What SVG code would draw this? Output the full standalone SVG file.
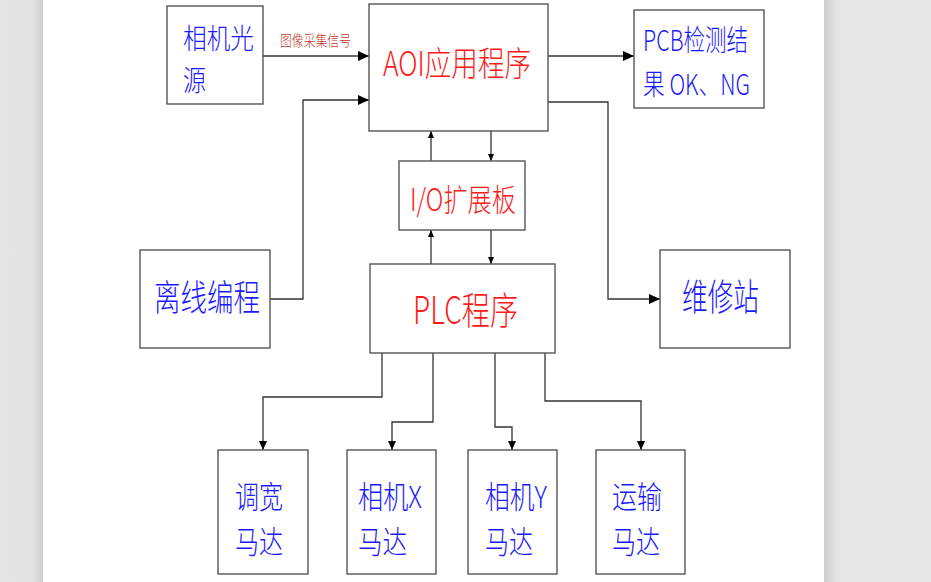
<svg xmlns="http://www.w3.org/2000/svg" width="931" height="582" viewBox="0 0 931 582">
<defs>
<linearGradient id="gl" x1="0" x2="1" y1="0" y2="0"><stop offset="0" stop-color="#e6e6e6"/><stop offset="0.75" stop-color="#e2e2e2"/><stop offset="1" stop-color="#cfcfcf"/></linearGradient>
<linearGradient id="gr" x1="0" x2="1" y1="0" y2="0"><stop offset="0" stop-color="#cccccc"/><stop offset="1" stop-color="#e6e6e6"/></linearGradient>
<marker id="aL" markerUnits="userSpaceOnUse" markerWidth="12" markerHeight="12" refX="11" refY="6" orient="auto"><path d="M0,1 L11,6 L0,11 Z" fill="#000"/></marker>
<marker id="aM" markerUnits="userSpaceOnUse" markerWidth="10" markerHeight="10" refX="9" refY="5" orient="auto"><path d="M0,1 L9,5 L0,9 Z" fill="#000"/></marker>
<marker id="aS" markerUnits="userSpaceOnUse" markerWidth="8" markerHeight="8" refX="7" refY="4" orient="auto"><path d="M0,1 L7,4 L0,7 Z" fill="#000"/></marker>
</defs>
<style>
.box{fill:#fff;stroke:#555;stroke-width:1.4}
.ln{fill:none;stroke:#333;stroke-width:1.3}
.t{font-family:"Noto Sans CJK SC","Liberation Serif",sans-serif;font-weight:300}
.b{fill:#1a1aff}
.r{fill:#ff1a1a}
</style>
<rect x="0" y="0" width="931" height="582" fill="#fff"/>
<rect x="0" y="0" width="43" height="582" fill="url(#gl)"/>
<rect x="824" y="0" width="14" height="582" fill="url(#gr)"/>
<rect x="838" y="0" width="93" height="582" fill="#e6e6e6"/>

<g id="connectors">
<path class="ln" d="M263,56 H369" marker-end="url(#aL)"/>
<text class="t" x="280" y="46" font-size="15" fill="#c0392b" textLength="71" lengthAdjust="spacingAndGlyphs">图像采集信号</text>
<path class="ln" d="M270,299 H303 V100 H369" marker-end="url(#aL)"/>
<path class="ln" d="M548,56 H634" marker-end="url(#aL)"/>
<path class="ln" d="M548,102 H608 V299 H660" marker-end="url(#aL)"/>
<path class="ln" d="M431,161 V131" marker-end="url(#aS)"/>
<path class="ln" d="M491,131 V161" marker-end="url(#aS)"/>
<path class="ln" d="M431,264 V230" marker-end="url(#aS)"/>
<path class="ln" d="M491,230 V264" marker-end="url(#aS)"/>
<path class="ln" d="M382,353 V397 H263 V450" marker-end="url(#aM)"/>
<path class="ln" d="M433,353 V422 H392 V450" marker-end="url(#aM)"/>
<path class="ln" d="M495,353 V427 H512 V450" marker-end="url(#aM)"/>
<path class="ln" d="M545,353 V401 H641 V450" marker-end="url(#aM)"/>
</g>

<g id="camera-light">
<rect class="box" x="167" y="6" width="96" height="98"/>
<text class="t b" x="183" y="49" font-size="28.5" textLength="71" lengthAdjust="spacingAndGlyphs">相机光</text>
<text class="t b" x="183" y="91" font-size="28.5" textLength="23" lengthAdjust="spacingAndGlyphs">源</text>
</g>

<g id="aoi">
<rect class="box" x="369" y="4" width="179" height="127"/>
<text class="t r" x="383" y="76" font-size="34" textLength="148" lengthAdjust="spacingAndGlyphs">AOI应用程序</text>
</g>

<g id="pcb-result">
<rect class="box" x="634" y="10" width="130" height="98"/>
<text class="t b" x="643" y="51" font-size="29" textLength="105" lengthAdjust="spacingAndGlyphs">PCB检测结</text>
<text class="t b" x="643" y="95" font-size="29" textLength="107" lengthAdjust="spacingAndGlyphs">果 OK、NG</text>
</g>

<g id="io-board">
<rect class="box" x="399" y="161" width="126" height="69"/>
<text class="t r" x="410" y="211" font-size="31" textLength="106" lengthAdjust="spacingAndGlyphs">I/O扩展板</text>
</g>

<g id="offline">
<rect class="box" x="140" y="250" width="130" height="98"/>
<text class="t b" x="154" y="311" font-size="36" textLength="106" lengthAdjust="spacingAndGlyphs">离线编程</text>
</g>

<g id="plc">
<rect class="box" x="370" y="264" width="185" height="89"/>
<text class="t r" x="413" y="324" font-size="38" textLength="105" lengthAdjust="spacingAndGlyphs">PLC程序</text>
</g>

<g id="repair">
<rect class="box" x="660" y="250" width="130" height="98"/>
<text class="t b" x="682" y="311" font-size="37" textLength="77" lengthAdjust="spacingAndGlyphs">维修站</text>
</g>

<g id="motor-width">
<rect class="box" x="218" y="450" width="90" height="124"/>
<text class="t b" x="235" y="508" font-size="30.5" textLength="48" lengthAdjust="spacingAndGlyphs">调宽</text>
<text class="t b" x="235" y="553" font-size="30.5" textLength="48" lengthAdjust="spacingAndGlyphs">马达</text>
</g>

<g id="motor-x">
<rect class="box" x="347" y="450" width="89" height="124"/>
<text class="t b" x="358" y="508" font-size="30.5" textLength="64" lengthAdjust="spacingAndGlyphs">相机X</text>
<text class="t b" x="358" y="553" font-size="30.5" textLength="49" lengthAdjust="spacingAndGlyphs">马达</text>
</g>

<g id="motor-y">
<rect class="box" x="468" y="450" width="89" height="124"/>
<text class="t b" x="485" y="508" font-size="30.5" textLength="62" lengthAdjust="spacingAndGlyphs">相机Y</text>
<text class="t b" x="485" y="553" font-size="30.5" textLength="48" lengthAdjust="spacingAndGlyphs">马达</text>
</g>

<g id="motor-conveyor">
<rect class="box" x="596" y="450" width="89" height="124"/>
<text class="t b" x="612" y="508" font-size="30.5" textLength="50" lengthAdjust="spacingAndGlyphs">运输</text>
<text class="t b" x="612" y="553" font-size="30.5" textLength="48" lengthAdjust="spacingAndGlyphs">马达</text>
</g>
</svg>
